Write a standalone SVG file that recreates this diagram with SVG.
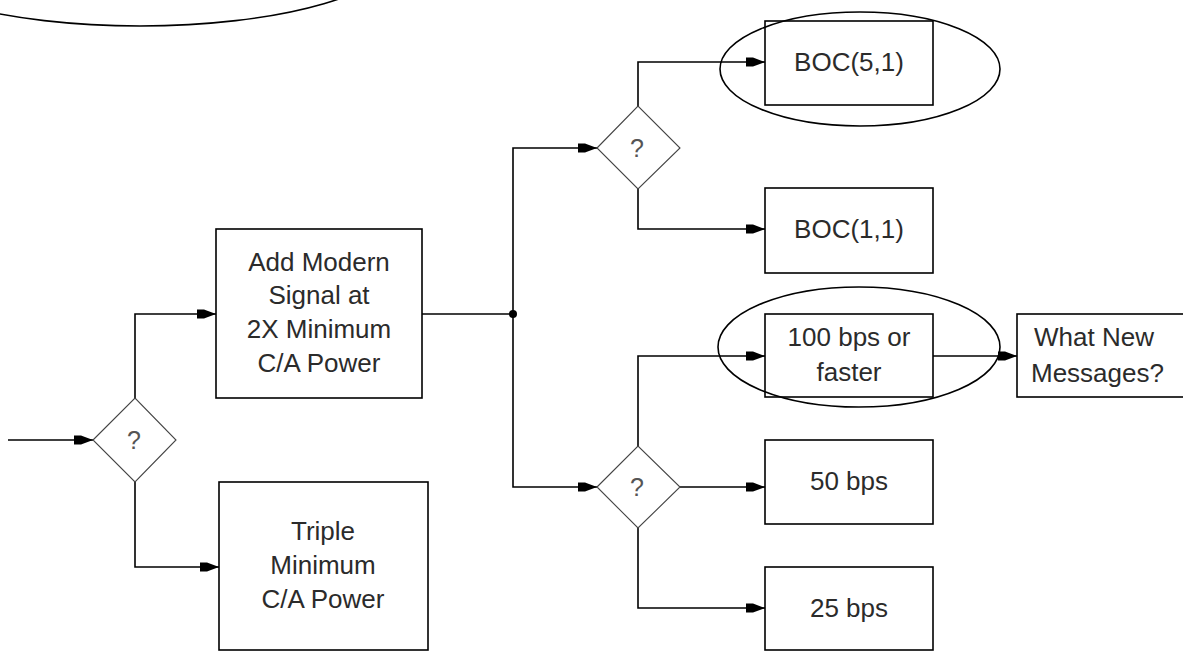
<svg xmlns="http://www.w3.org/2000/svg" width="1183" height="656" viewBox="0 0 1183 656">
<style>
.box{fill:#fff;stroke:#000;stroke-width:1.6}
.dia{fill:#fff;stroke:#444;stroke-width:1.1}
.lbl{font-family:"Liberation Sans",Arial,sans-serif;font-size:26px;fill:#2b2b2b;text-anchor:middle}
.q{font-family:"Liberation Sans",Arial,sans-serif;font-size:25px;fill:#555;text-anchor:middle}
.con{fill:none;stroke:#000;stroke-width:1.6}
.ell{fill:none;stroke:#000;stroke-width:1.6}
</style>
<defs>
<marker id="arr" markerUnits="userSpaceOnUse" markerWidth="22" markerHeight="12" refX="19" refY="5" orient="auto">
<path d="M0,0.5 L7,0.5 L19,5 L7,9.5 L0,9.5 z" fill="#000"/>
</marker>
</defs>
<rect width="1183" height="656" fill="#fff"/>
<g id="connectors">
<path class="con" d="M8,440 H93" marker-end="url(#arr)"/>
<path class="con" d="M135,398 V314 H216" marker-end="url(#arr)"/>
<path class="con" d="M135,482 V567 H219" marker-end="url(#arr)"/>
<path class="con" d="M422,314 H513"/>
<path class="con" d="M513,314 V148 H597" marker-end="url(#arr)"/>
<path class="con" d="M513,314 V487 H597" marker-end="url(#arr)"/>
<path class="con" d="M638,106 V62 H765" marker-end="url(#arr)"/>
<path class="con" d="M638,189 V229 H765" marker-end="url(#arr)"/>
<path class="con" d="M638,446 V356 H765" marker-end="url(#arr)"/>
<path class="con" d="M680,487 H765" marker-end="url(#arr)"/>
<path class="con" d="M638,528 V608 H765" marker-end="url(#arr)"/>
<path class="con" d="M933,356 H1017" marker-end="url(#arr)"/>
<circle cx="513" cy="314" r="4" fill="#000"/>
</g>
<g id="d1">
<polygon class="dia" points="93,440 135,398 176,440 135,482"/>
<text class="q" x="134" y="449">?</text>
</g>
<g id="n-add">
<rect class="box" x="216" y="229" width="206" height="169"/>
<text class="lbl" x="319" y="271">Add Modern</text>
<text class="lbl" x="319" y="304">Signal at</text>
<text class="lbl" x="319" y="338">2X Minimum</text>
<text class="lbl" x="319" y="372">C/A Power</text>
</g>
<g id="n-triple">
<rect class="box" x="219" y="482" width="209" height="168"/>
<text class="lbl" x="323" y="540">Triple</text>
<text class="lbl" x="323" y="574">Minimum</text>
<text class="lbl" x="323" y="608">C/A Power</text>
</g>
<g id="d2">
<polygon class="dia" points="597,148 638,106 680,148 638,189"/>
<text class="q" x="637" y="157">?</text>
</g>
<g id="n-boc51">
<rect class="box" x="765" y="21" width="168" height="84"/>
<text class="lbl" x="849" y="71">BOC(5,1)</text>
</g>
<g id="n-boc11">
<rect class="box" x="765" y="188" width="168" height="85"/>
<text class="lbl" x="849" y="238">BOC(1,1)</text>
</g>
<g id="d3">
<polygon class="dia" points="597,487 638,446 680,487 638,528"/>
<text class="q" x="637" y="496">?</text>
</g>
<g id="n-100">
<rect class="box" x="765" y="314" width="168" height="83"/>
<text class="lbl" x="849" y="346">100 bps or</text>
<text class="lbl" x="849" y="381">faster</text>
</g>
<g id="n-50">
<rect class="box" x="765" y="440" width="168" height="84"/>
<text class="lbl" x="849" y="490">50 bps</text>
</g>
<g id="n-25">
<rect class="box" x="765" y="567" width="168" height="83"/>
<text class="lbl" x="849" y="617">25 bps</text>
</g>
<g id="n-msg">
<rect class="box" x="1017" y="314" width="200" height="83"/>
<text class="lbl" x="1034" y="346" style="text-anchor:start">What New</text>
<text class="lbl" x="1031" y="382" style="text-anchor:start">Messages?</text>
</g>
<g id="highlights">
<ellipse class="ell" cx="140" cy="-50" rx="260" ry="76"/>
<ellipse class="ell" cx="860" cy="69" rx="140" ry="57"/>
<ellipse class="ell" cx="859" cy="347" rx="141" ry="60"/>
</g>
</svg>
